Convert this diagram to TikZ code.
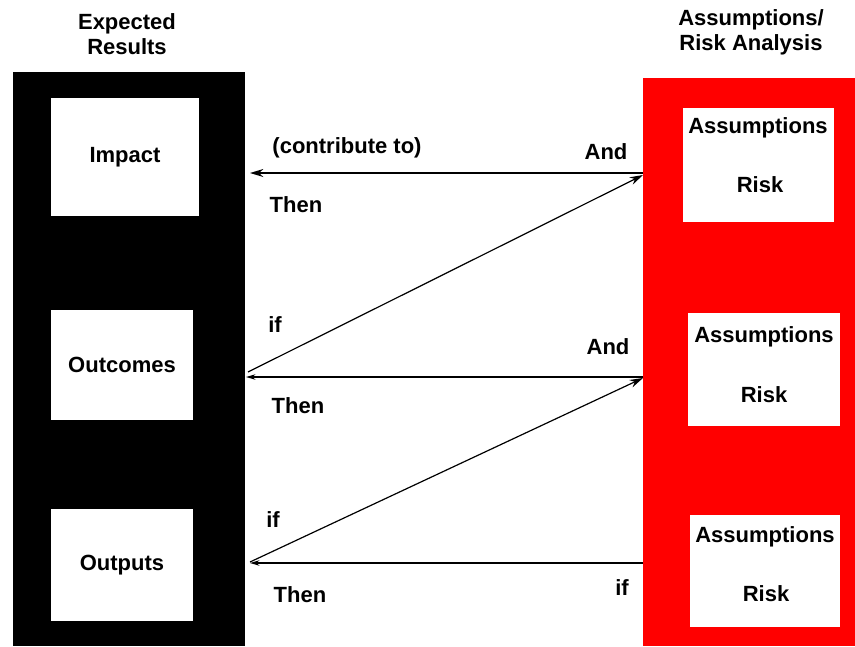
\documentclass[tikz,border=0pt]{standalone}
\usepackage{fontspec}
\setmainfont{Liberation Sans}
\usetikzlibrary{arrows.meta}

\begin{document}
\begin{tikzpicture}[x = 0.75pt, y = -0.75pt, font=\fontsize{16.5}{19}\selectfont\bfseries]
	\tikzstyle{PanelStyle} = [shape = rectangle, inner sep = 0pt, draw = none]
	\tikzstyle{BoxStyle} = [shape = rectangle, inner sep = 0pt, fill = white]
	\tikzstyle{TextStyle} = [inner sep = 0pt]
	\tikzstyle{ThinArrow} = [line width = 1.1pt, -{Stealth[length = 10pt, width = 6pt]}]
	\tikzstyle{ThickArrow} = [line width = 2.2pt, -{Stealth[length = 7pt, width = 4pt]}]
	\tikzstyle{SlopeArrow} = [line width = 0.9pt, -{Stealth[length = 10pt, width = 6pt]}]
	\useasboundingbox (0,0) rectangle (855,646);
	% titles
	\node[TextStyle, align = center] (results) at (127,34) {Expected\\Results};
	\node[TextStyle, align = center] (analysis) at (751,32) {Assumptions/\\Risk Analysis};
	% panels
	\node[PanelStyle, fill = black, minimum width = 232*0.75pt, minimum height = 574*0.75pt] (left) at (129,359) {};
	\node[PanelStyle, fill = red, minimum width = 212*0.75pt, minimum height = 568*0.75pt] (right) at (749,362) {};
	% expected results
	\node[BoxStyle, minimum width = 148*0.75pt, minimum height = 118*0.75pt] (impact) at (125,157) {Impact};
	\node[BoxStyle, minimum width = 142*0.75pt, minimum height = 110*0.75pt] (outcomes) at (122,365) {Outcomes};
	\node[BoxStyle, minimum width = 142*0.75pt, minimum height = 112*0.75pt] (outputs) at (122,565) {Outputs};
	% assumptions / risk
	\node[BoxStyle, minimum width = 151*0.75pt, minimum height = 114*0.75pt] (risk1) at (758.5,165) {};
	\node[BoxStyle, minimum width = 152*0.75pt, minimum height = 113*0.75pt] (risk2) at (764,369.5) {};
	\node[BoxStyle, minimum width = 150*0.75pt, minimum height = 112*0.75pt] (risk3) at (765,571) {};
	\node[TextStyle] (a1) at (758,128) {Assumptions};
	\node[TextStyle] (r1) at (760,185) {Risk};
	\node[TextStyle] (a2) at (764,337) {Assumptions};
	\node[TextStyle] (r2) at (764,395) {Risk};
	\node[TextStyle] (a3) at (765,537) {Assumptions};
	\node[TextStyle] (r3) at (766,594) {Risk};
	% connector ends
	\coordinate (i1) at (250,173);
	\coordinate (i2) at (248,372);
	\coordinate (o1) at (246,377);
	\coordinate (o2) at (250,562);
	\coordinate (p1) at (250,563);
	\coordinate (e1) at (643,173);
	\coordinate (e2) at (643,175);
	\coordinate (e3) at (643,377);
	\coordinate (e4) at (643,378);
	\coordinate (e5) at (643,563);
	\draw[ThinArrow] (e1) -- (i1);
	\draw[SlopeArrow] (i2) -- (e2);
	\draw[ThickArrow] (e3) -- (o1);
	\draw[SlopeArrow] (o2) -- (e4);
	\draw[ThickArrow] (e5) -- (p1);
	% labels
	\node[TextStyle] (contrib) at (347,148) {(contribute to)};
	\node[TextStyle] (and1) at (606,152) {And};
	\node[TextStyle] (then1) at (296,205) {Then};
	\node[TextStyle] (if1) at (275,325) {if};
	\node[TextStyle] (and2) at (608,347) {And};
	\node[TextStyle] (then2) at (298,406) {Then};
	\node[TextStyle] (if2) at (273,520) {if};
	\node[TextStyle] (then3) at (300,595) {Then};
	\node[TextStyle] (if3) at (622,588) {if};
\end{tikzpicture}
\end{document}
